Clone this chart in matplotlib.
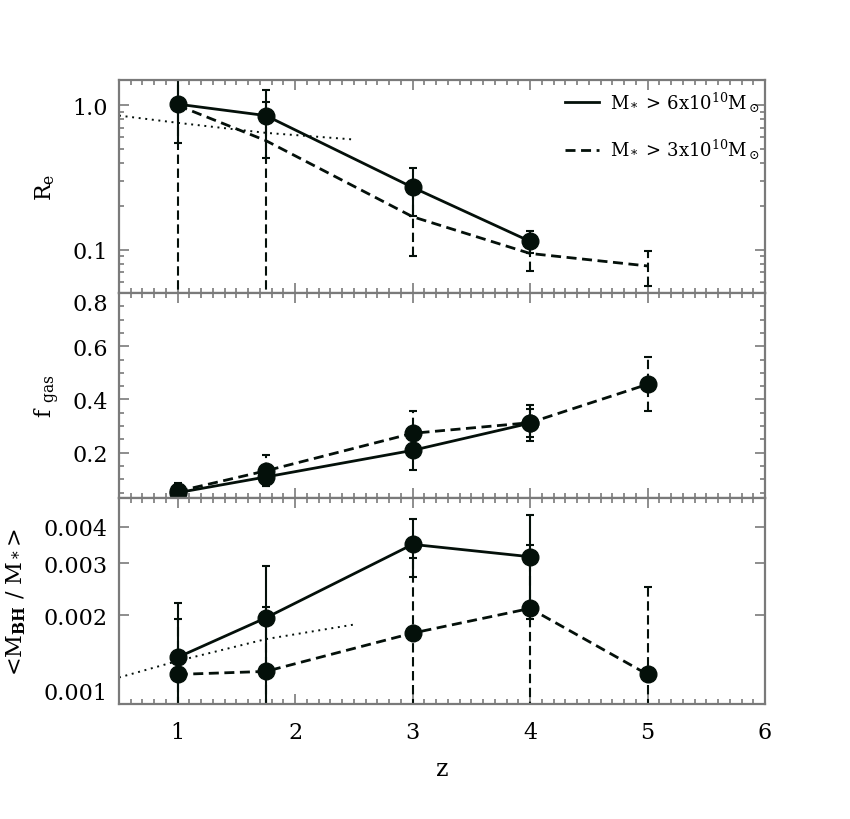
import matplotlib
matplotlib.use("Agg")
import matplotlib.pyplot as plt
from matplotlib.ticker import MultipleLocator, NullFormatter, NullLocator, LogLocator
from matplotlib.lines import Line2D

plt.rcParams["font.family"] = ["DejaVu Serif"]
plt.rcParams["mathtext.fontset"] = "dejavuserif"

# --- data ---
# M* > 6e10 (solid) and M* > 3e10 (dashed)
z_hi = [1.0, 1.75, 3.0, 4.0]
z_lo = [1.0, 1.75, 3.0, 4.0, 5.0]

re_hi = [1.02, 0.85, 0.27, 0.114]
re_hi_err = [0.47, 0.42, 0.10, 0.02]
re_lo = [1.0, 0.57, 0.169, 0.094, 0.077]
re_lo_err_minus = [1.0, 0.57, 0.079, 0.023, 0.021]   # bars running down to zero
re_lo_err_plus = [1.0, 0.49, 0.079, 0.023, 0.021]

fg_hi = [0.05, 0.109, 0.209, 0.311]
fg_hi_err = [0.03, 0.035, 0.074, 0.052]
fg_lo = [0.055, 0.132, 0.273, 0.313, 0.457]
fg_lo_err = [0.03, 0.058, 0.083, 0.068, 0.101]

bh_hi = [0.00144, 0.00196, 0.00348, 0.00316]
bh_hi_err = [0.00076, 0.00098, 0.00078, 0.00122]
bh_lo = [0.00126, 0.00129, 0.00174, 0.00211, 0.00126]
bh_lo_err = [0.00069, 0.00084, 0.00138, 0.00135, 0.00124]

# dotted reference curves
dot_z = [0.5, 1.0, 1.75, 2.5]
dot_re = [0.85, 0.757, 0.645, 0.58]
dot_bh = [0.00123, 0.0014, 0.00166, 0.00186]

legend_labels = [r"M$_*$ > 6x10$^{10}$M$_\odot$", r"M$_*$ > 3x10$^{10}$M$_\odot$"]

INK = "#04100a"
FRAME = "#7a7a7a"
DASH = (0, (3.6, 2.0))
EDASH = (0, (4.5, 2.2))
DOT = (0, (1, 2.4))


def series(ax, z, y, yerr, dashed, marker=True):
    eb = ax.errorbar(z, y, yerr=yerr, color=INK, lw=2, ls=DASH if dashed else "-",
                     marker="o" if marker else None, ms=12, mfc=INK, mec=INK,
                     elinewidth=1.5, capsize=3, capthick=1.5, ecolor=INK)
    if dashed:
        eb.lines[2][0].set_linestyle(EDASH)
    return eb


fig = plt.figure(figsize=(8.5, 8.2), dpi=100)
L, W = 119 / 850, 646 / 850
ax_re = fig.add_axes([L, 1 - 294 / 820, W, 213 / 820])
ax_fg = fig.add_axes([L, 1 - 499 / 820, W, 205 / 820])
ax_bh = fig.add_axes([L, 1 - 705 / 820, W, 206 / 820])

for ax in (ax_re, ax_bh):
    ax.set_yscale("log", nonpositive="clip")

# top: effective radius
ax_re.plot(dot_z, dot_re, ls=DOT, lw=1.4, color=INK)
series(ax_re, z_lo, re_lo, [re_lo_err_minus, re_lo_err_plus], True, marker=False)
series(ax_re, z_hi, re_hi, re_hi_err, False)
ax_re.set_ylim(0.05, 1.5)
ax_re.set_yticks([0.1, 1.0])
ax_re.set_yticklabels(["0.1", "1.0"])
ax_re.yaxis.set_minor_locator(LogLocator(subs=range(2, 10)))
ax_re.yaxis.set_minor_formatter(NullFormatter())
ax_re.set_ylabel(r"R$_\mathrm{e}$", fontsize=16)
ax_re.yaxis.set_label_coords(-0.096, 0.5)

handles = [Line2D([], [], color=INK, lw=2), Line2D([], [], color=INK, lw=2, ls=DASH)]
ax_re.legend(handles, legend_labels, loc="upper left", bbox_to_anchor=(0.69, 0.955),
             frameon=False, fontsize=13, handlelength=1.9, handletextpad=0.6,
             labelspacing=1.3, borderpad=0, borderaxespad=0)

# middle: gas fraction
series(ax_fg, z_lo, fg_lo, fg_lo_err, True)
series(ax_fg, z_hi, fg_hi, fg_hi_err, False)
ax_fg.set_ylim(0.03, 0.8)
ax_fg.set_yticks([0.2, 0.4, 0.6, 0.8])
ax_fg.set_yticklabels(["0.2", "0.4", "0.6", "0.8"])
ax_fg.yaxis.set_minor_locator(MultipleLocator(0.05))
ax_fg.yaxis.get_major_ticks()[3].label1.set_va("top")
ax_fg.set_ylabel(r"f$\,\,{}_\mathrm{gas}$", fontsize=16)
ax_fg.yaxis.set_label_coords(-0.088, 0.5)

# bottom: black hole to stellar mass ratio
ax_bh.plot(dot_z, dot_bh, ls=DOT, lw=1.4, color=INK)
series(ax_bh, z_lo, bh_lo, bh_lo_err, True)
series(ax_bh, z_hi, bh_hi, bh_hi_err, False)
ax_bh.set_ylim(0.001, 0.005)
ax_bh.set_yticks([0.001, 0.002, 0.003, 0.004])
ax_bh.set_yticklabels(["0.001", "0.002", "0.003", "0.004"])
ax_bh.yaxis.set_minor_locator(NullLocator())
ax_bh.yaxis.get_major_ticks()[0].label1.set_va("bottom")
ax_bh.set_ylabel(r"<M$_\mathbf{BH}$ / M$_*$>", fontsize=16)
ax_bh.yaxis.set_label_coords(-0.141, 0.5)
ax_bh.set_xlabel("z", fontsize=17, labelpad=10)

for ax in (ax_re, ax_fg, ax_bh):
    ax.set_xlim(0.5, 6)
    ax.xaxis.set_major_locator(MultipleLocator(1))
    ax.xaxis.set_minor_locator(MultipleLocator(0.1))
    ax.tick_params(which="both", direction="in", top=True, right=True, color=FRAME,
                   width=1.2, labelsize=16, labelbottom=(ax is ax_bh))
    ax.tick_params(which="major", length=7)
    ax.tick_params(which="minor", length=3.6)
    ax.tick_params(axis="y", pad=8)
    ax.tick_params(axis="x", pad=12)
    for s in ax.spines.values():
        s.set_color(FRAME)
        s.set_linewidth(1.6)

fig.savefig("out.png", dpi=100)
